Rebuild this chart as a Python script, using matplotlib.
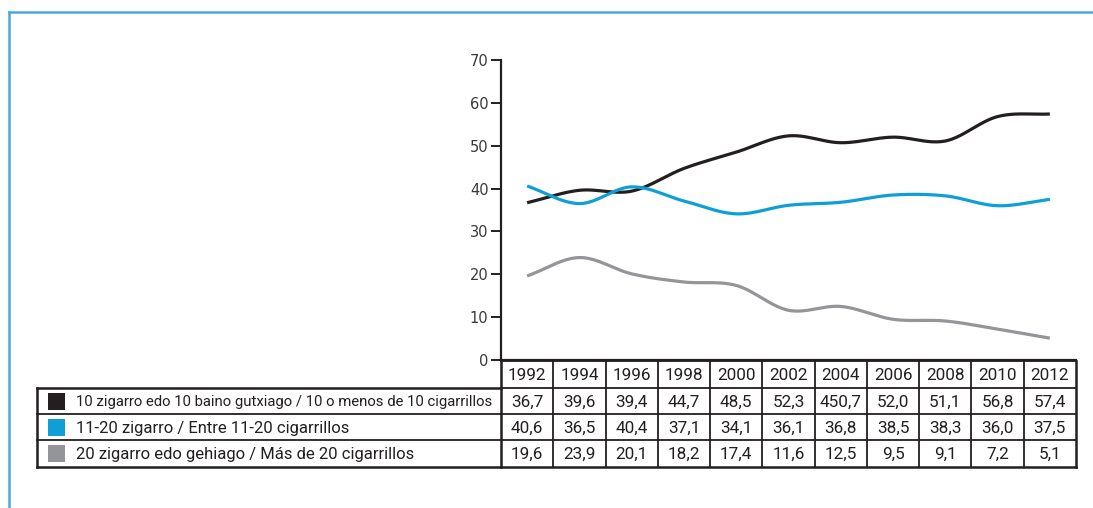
import numpy as np
import matplotlib
matplotlib.use('Agg')
import matplotlib.pyplot as plt
from matplotlib.transforms import blended_transform_factory
from matplotlib.patches import Rectangle
from matplotlib.lines import Line2D

years = [1992, 1994, 1996, 1998, 2000, 2002, 2004, 2006, 2008, 2010, 2012]
menos_10 = [36.7, 39.6, 39.4, 44.7, 48.5, 52.3, 50.7, 52.0, 51.1, 56.8, 57.4]
entre_11_20 = [40.6, 36.5, 40.4, 37.1, 34.1, 36.1, 36.8, 38.5, 38.3, 36.0, 37.5]
mas_20 = [19.6, 23.9, 20.1, 18.2, 17.4, 11.6, 12.5, 9.5, 9.1, 7.2, 5.1]

series_names = [
    '10 zigarro edo 10 baino gutxiago / 10 o menos de 10 cigarrillos',
    '11-20 zigarro / Entre 11-20 cigarrillos',
    '20 zigarro edo gehiago / Más de 20 cigarrillos',
]
series_colors = ['#231f20', '#0f9fd8', '#939598']
y_ticks = [0, 10, 20, 30, 40, 50, 60, 70]

# the printed table carries this misprint for 2004
printed_override = {(0, 6): '450,7'}

TABLE_FONT = ['Roboto', 'DejaVu Sans']
INK = '#231f20'


def catmull_rom(x, y, n=24):
    x = np.asarray(x, float)
    y = np.asarray(y, float)
    px = np.concatenate([[2 * x[0] - x[1]], x, [2 * x[-1] - x[-2]]])
    py = np.concatenate([[2 * y[0] - y[1]], y, [2 * y[-1] - y[-2]]])
    t = np.linspace(0, 1, n, endpoint=False)
    xs, ys = [], []
    for i in range(len(x) - 1):
        for arr, out in ((px, xs), (py, ys)):
            p0, p1, p2, p3 = arr[i:i + 4]
            out.append(0.5 * (2 * p1 + (-p0 + p2) * t
                              + (2 * p0 - 5 * p1 + 4 * p2 - p3) * t ** 2
                              + (-p0 + 3 * p1 - 3 * p2 + p3) * t ** 3))
    xs.append([x[-1]])
    ys.append([y[-1]])
    return np.concatenate(xs), np.concatenate(ys)


W, H = 1093, 508
fig = plt.figure(figsize=(W / 100, H / 100), dpi=100)

# overlay in pixel units for the frame and table
ov = fig.add_axes([0, 0, 1, 1])
ov.set_xlim(0, W)
ov.set_ylim(H, 0)
ov.set_axis_off()

ax = fig.add_axes([501 / W, 1 - 360 / H, 575 / W, 300 / H])
ax.set_xlim(1991, 2013)
ax.set_ylim(0, 70)
ax.patch.set_alpha(0)
for s in ['top', 'right']:
    ax.spines[s].set_visible(False)
for s in ['left', 'bottom']:
    ax.spines[s].set_linewidth(1.6)
    ax.spines[s].set_color(INK)
ax.set_xticks([])
ax.set_yticks(y_ticks)
ax.tick_params(axis='y', length=7, width=1.4, color=INK, pad=2,
               labelsize=10.5, labelcolor='#3a3a3a')

for vals, col in zip([menos_10, entre_11_20, mas_20], series_colors):
    sx, sy = catmull_rom(years, vals)
    ax.plot(sx, sy, color=col, lw=2.3, solid_capstyle='butt', zorder=3)

# blue page frame
ov.add_line(Line2D([8.5, W], [11.5, 11.5], color='#4aa8dc', lw=1.8))
ov.add_line(Line2D([8.5, 8.5], [11.5, H], color='#4aa8dc', lw=1.8))

# data table under the axis
tr = blended_transform_factory(ax.transData, ov.transData)
row_edges = [361, 388, 414, 440, 467]
x_lo, x_hi = years[0] - 1, years[-1] + 1
lw_in, lw_out = 1.3, 1.8

# year header row and value rows
for y0 in row_edges[1:-1]:
    ov.plot([x_lo, x_hi], [y0, y0], transform=tr, color=INK, lw=lw_in)
ov.plot([x_lo, x_hi], [row_edges[0]] * 2, transform=tr, color=INK, lw=lw_in)
ov.plot([x_lo, x_hi], [row_edges[-1]] * 2, transform=tr, color=INK, lw=lw_out)
for k in range(len(years) + 1):
    xe = x_lo + 2 * k
    ov.plot([xe, xe], [row_edges[0], row_edges[-1]], transform=tr,
            color=INK, lw=lw_out if k in (0, len(years)) else lw_in)

for j, yr in enumerate(years):
    ov.text(yr, (row_edges[0] + row_edges[1]) / 2 + 1, str(yr), transform=tr,
            ha='center', va='center', fontsize=12.3, family=TABLE_FONT, color=INK)

label_left = 37
label_sizes = [10.7, 12, 12]
for i, (vals, name, col) in enumerate(zip([menos_10, entre_11_20, mas_20],
                                          series_names, series_colors)):
    top, bot = row_edges[i + 1], row_edges[i + 2]
    mid = (top + bot) / 2 + 1
    for j, (yr, v) in enumerate(zip(years, vals)):
        txt = printed_override.get((i, j), f'{v:.1f}'.replace('.', ','))
        ov.text(yr, mid, txt, transform=tr, ha='center', va='center',
                fontsize=12.3, family=TABLE_FONT, color=INK)
    ov.add_patch(Rectangle((48, top + 5), 17, 17, facecolor=col, edgecolor='none'))
    ov.text(76, mid, name, ha='left', va='center', fontsize=label_sizes[i],
            family=TABLE_FONT, color=INK)

# outer box of the label column
ov.plot([label_left, 501], [row_edges[1]] * 2, color=INK, lw=lw_out)
ov.plot([label_left, 501], [row_edges[2]] * 2, color=INK, lw=lw_in)
ov.plot([label_left, 501], [row_edges[3]] * 2, color=INK, lw=lw_in)
ov.plot([label_left, 501], [row_edges[4]] * 2, color=INK, lw=lw_out)
ov.plot([label_left, label_left], [row_edges[1], row_edges[4]], color=INK, lw=lw_out)

fig.savefig('out.png', dpi=100, facecolor='white')
